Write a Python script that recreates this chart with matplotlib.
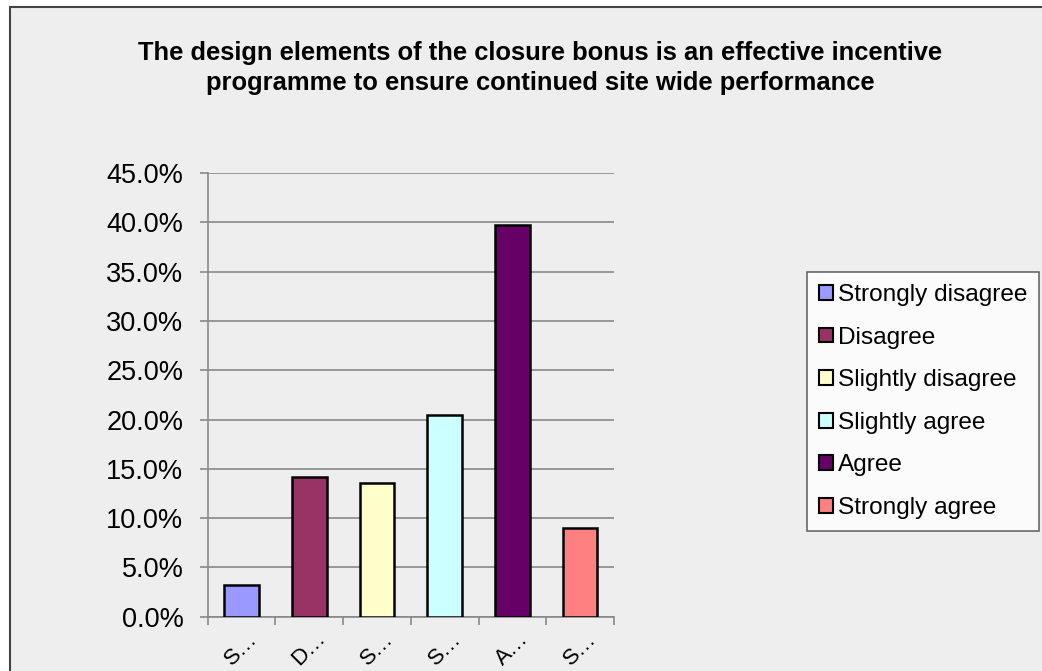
import matplotlib
matplotlib.use("Agg")
import matplotlib.pyplot as plt
from matplotlib.patches import Rectangle, Patch
from matplotlib.ticker import MultipleLocator, FuncFormatter

categories = ["Strongly disagree", "Disagree", "Slightly disagree",
              "Slightly agree", "Agree", "Strongly agree"]
values = [3.2, 14.2, 13.6, 20.5, 39.7, 9.0]
tick_labels = ["S…", "D…", "S…", "S…", "A…", "S…"]
colors = ["#9999FF", "#993366", "#FFFFCC", "#CCFFFF", "#660066", "#FF8080"]
title = ("The design elements of the closure bonus is an effective incentive\n"
         "programme to ensure continued site wide performance")

plt.rcParams['font.family'] = ['Liberation Sans', 'DejaVu Sans']

W, H = 1042, 671
fig = plt.figure(figsize=(W / 100, H / 100), dpi=100, facecolor="white")

# outer chart frame
fig.patches.append(Rectangle((10 / W, -0.05), 1.2, 1 - 7 / H + 0.05,
                             transform=fig.transFigure, facecolor="#EEEEEE",
                             edgecolor="#444444", linewidth=1.5, zorder=-10))

ax = fig.add_axes([207.7 / W, 54.3 / H, (614 - 207.7) / W, (616.7 - 173) / H])
ax.set_zorder(2)
ax.set_facecolor("none")

x = list(range(len(categories)))
ax.bar(x, values, width=0.51, color=colors, edgecolor="black", linewidth=1.8, zorder=3)

ax.set_xlim(-0.5, len(categories) - 0.5)
ax.set_ylim(0, 45)
ax.yaxis.set_major_locator(MultipleLocator(5))
ax.yaxis.set_major_formatter(FuncFormatter(lambda v, p: f"{v:.1f}%"))
ax.grid(axis="y", color="#888888", linewidth=1.2, zorder=1)

for s in ["top", "right"]:
    ax.spines[s].set_visible(False)
for s in ["left", "bottom"]:
    ax.spines[s].set_color("#888888")
    ax.spines[s].set_linewidth(1.2)

ax.tick_params(axis="y", length=5.5, width=1.2, color="#888888", labelsize=19.5, pad=12)
ax.set_xticks([i + 0.5 for i in range(-1, len(categories))], minor=False)
ax.set_xticklabels([])
ax.tick_params(axis="x", which="major", length=5.5, width=1.2, color="#888888")
ax.set_xticks(x, minor=True)
ax.set_xticklabels(tick_labels, minor=True, rotation=45, ha="center", va="center",
                   rotation_mode="anchor", fontsize=16, family="Liberation Sans")
ax.tick_params(axis="x", which="minor", length=0, pad=23)

fig.text(540 / W, 1 - 68 / H, title, ha="center", va="center", fontsize=18.4,
         fontweight="bold", linespacing=1.35)

handles = [Patch(facecolor=c, edgecolor="black", linewidth=1.5) for c in colors]
leg = fig.legend(handles, categories, loc="upper left",
                 bbox_to_anchor=(807 / W, 1 - 272 / H), frameon=True,
                 fontsize=17.6, handlelength=0.55, handleheight=0.55,
                 handletextpad=0.2, labelspacing=0.84, borderpad=0.5,
                 borderaxespad=0, fancybox=False)
leg.get_frame().set_edgecolor("#444444")
leg.get_frame().set_linewidth(1.2)
leg.get_frame().set_facecolor("white")

fig.savefig("out.png", dpi=100, facecolor="white")
